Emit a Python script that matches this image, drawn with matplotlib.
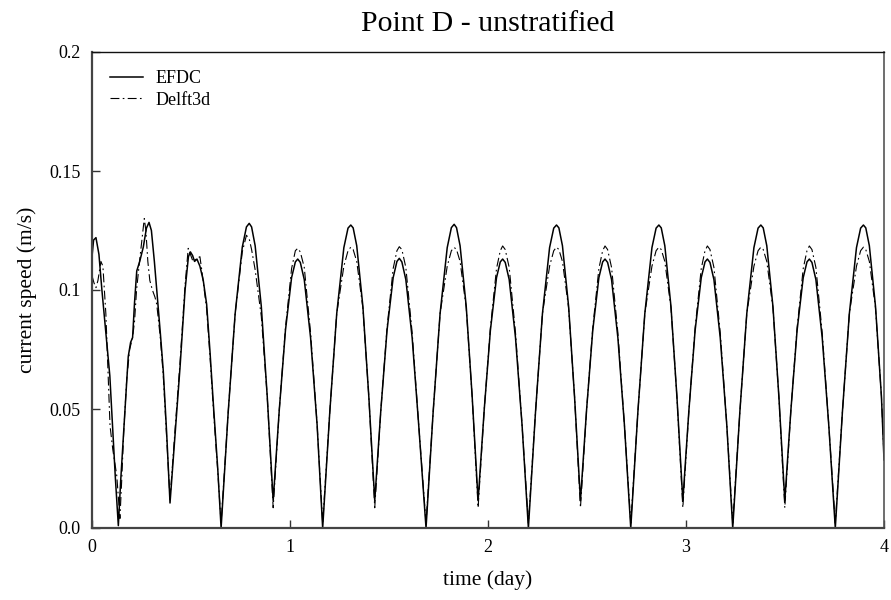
import matplotlib
matplotlib.use("Agg")
import matplotlib.pyplot as plt

# --- values ---
# first ~0.65 day (spin-up, irregular)
efdc_time_start = [0.000, 0.008, 0.020, 0.035, 0.050, 0.070, 0.090, 0.105, 0.118, 0.133,
                   0.145, 0.158, 0.172, 0.183, 0.195, 0.205, 0.215, 0.226, 0.241, 0.259,
                   0.275, 0.288, 0.300, 0.315, 0.327, 0.345, 0.360, 0.377, 0.394, 0.420,
                   0.445, 0.470, 0.487, 0.497, 0.508, 0.518, 0.530, 0.545, 0.562, 0.579,
                   0.596, 0.613, 0.635]
efdc_speed_start = [0.114, 0.121, 0.122, 0.115, 0.100, 0.082, 0.064, 0.041, 0.021, 0.001,
                    0.020, 0.038, 0.058, 0.072, 0.078, 0.080, 0.095, 0.108, 0.112, 0.118,
                    0.126, 0.1284, 0.125, 0.112, 0.100, 0.082, 0.066, 0.040, 0.0105, 0.040,
                    0.068, 0.100, 0.114, 0.116, 0.1145, 0.112, 0.113, 0.110, 0.104, 0.094,
                    0.074, 0.052, 0.025]

delft_time_start = [0.000, 0.010, 0.020, 0.030, 0.045, 0.055, 0.070, 0.091, 0.105, 0.125,
                    0.141, 0.150, 0.160, 0.175, 0.190, 0.205, 0.215, 0.225, 0.240, 0.255,
                    0.264, 0.272, 0.282, 0.292, 0.305, 0.318, 0.327, 0.345, 0.360, 0.377,
                    0.394, 0.420, 0.445, 0.470, 0.486, 0.497, 0.510, 0.525, 0.545, 0.555,
                    0.579, 0.596, 0.613, 0.635]
delft_speed_start = [0.106, 0.103, 0.101, 0.104, 0.112, 0.110, 0.090, 0.043, 0.033, 0.022,
                     0.004, 0.020, 0.040, 0.062, 0.075, 0.080, 0.087, 0.100, 0.112, 0.123,
                     0.130, 0.125, 0.112, 0.104, 0.100, 0.097, 0.094, 0.080, 0.064, 0.038,
                     0.012, 0.042, 0.070, 0.102, 0.1175, 0.115, 0.112, 0.113, 0.114, 0.108,
                     0.092, 0.072, 0.050, 0.024]

# regular tidal part, one row per half M2 cycle (both models share the time axis)
tide_time = [
    0.652, 0.688, 0.723, 0.759, 0.780, 0.794, 0.806, 0.824, 0.855, 0.885,
    0.915, 0.946, 0.977, 1.008, 1.027, 1.039, 1.052, 1.072, 1.104, 1.137,
    1.165, 1.201, 1.236, 1.272, 1.293, 1.307, 1.319, 1.337, 1.368, 1.398,
    1.428, 1.459, 1.490, 1.521, 1.540, 1.552, 1.565, 1.585, 1.617, 1.650,
    1.687, 1.723, 1.758, 1.794, 1.815, 1.829, 1.841, 1.859, 1.890, 1.920,
    1.950, 1.981, 2.012, 2.043, 2.062, 2.074, 2.087, 2.107, 2.139, 2.172,
    2.204, 2.240, 2.275, 2.311, 2.332, 2.346, 2.358, 2.376, 2.407, 2.437,
    2.467, 2.498, 2.529, 2.560, 2.579, 2.591, 2.604, 2.624, 2.656, 2.689,
    2.721, 2.757, 2.792, 2.828, 2.849, 2.863, 2.875, 2.893, 2.924, 2.954,
    2.984, 3.015, 3.046, 3.077, 3.096, 3.108, 3.121, 3.141, 3.173, 3.206,
    3.236, 3.272, 3.307, 3.343, 3.364, 3.378, 3.390, 3.408, 3.439, 3.469,
    3.499, 3.530, 3.561, 3.592, 3.611, 3.623, 3.636, 3.656, 3.688, 3.721,
    3.754, 3.790, 3.825, 3.861, 3.882, 3.896, 3.908, 3.926, 3.957, 3.987,
    4.000,
]
efdc_speed_tide = [
    0.000, 0.0488, 0.0901, 0.1180, 0.1265, 0.1280, 0.1265, 0.1186, 0.0932, 0.0553,
    0.0115, 0.0498, 0.0830, 0.1052, 0.1118, 0.1130, 0.1116, 0.1044, 0.0799, 0.0433,
    0.000, 0.0488, 0.0901, 0.1178, 0.1260, 0.1273, 0.1261, 0.1186, 0.0932, 0.0553,
    0.0115, 0.0498, 0.0830, 0.1052, 0.1120, 0.1133, 0.1118, 0.1044, 0.0799, 0.0433,
    0.000, 0.0488, 0.0901, 0.1178, 0.1262, 0.1276, 0.1262, 0.1186, 0.0932, 0.0553,
    0.0115, 0.0498, 0.0830, 0.1052, 0.1118, 0.1130, 0.1116, 0.1044, 0.0799, 0.0433,
    0.000, 0.0488, 0.0901, 0.1178, 0.1260, 0.1273, 0.1261, 0.1186, 0.0932, 0.0553,
    0.0115, 0.0498, 0.0830, 0.1052, 0.1118, 0.1130, 0.1116, 0.1044, 0.0799, 0.0433,
    0.000, 0.0488, 0.0901, 0.1178, 0.1260, 0.1273, 0.1261, 0.1186, 0.0932, 0.0553,
    0.0115, 0.0498, 0.0830, 0.1052, 0.1118, 0.1130, 0.1116, 0.1044, 0.0799, 0.0433,
    0.000, 0.0488, 0.0901, 0.1178, 0.1260, 0.1273, 0.1261, 0.1186, 0.0932, 0.0553,
    0.0115, 0.0498, 0.0830, 0.1052, 0.1118, 0.1130, 0.1116, 0.1044, 0.0799, 0.0433,
    0.000, 0.0488, 0.0901, 0.1178, 0.1260, 0.1273, 0.1261, 0.1186, 0.0932, 0.0553,
    0.0286,
]
delft_speed_tide = [
    0.002, 0.0488, 0.0901, 0.1160, 0.1230, 0.1215, 0.1170, 0.1085, 0.0890, 0.0553,
    0.0085, 0.0498, 0.0840, 0.1090, 0.1165, 0.1175, 0.1160, 0.1095, 0.0820, 0.0433,
    0.002, 0.0488, 0.0901, 0.1100, 0.1165, 0.1180, 0.1170, 0.1120, 0.0925, 0.0553,
    0.0085, 0.0498, 0.0840, 0.1090, 0.1165, 0.1182, 0.1170, 0.1095, 0.0820, 0.0433,
    0.002, 0.0488, 0.0901, 0.1100, 0.1165, 0.1179, 0.1170, 0.1120, 0.0925, 0.0553,
    0.0085, 0.0498, 0.0840, 0.1090, 0.1165, 0.1185, 0.1170, 0.1095, 0.0820, 0.0433,
    0.002, 0.0488, 0.0901, 0.1100, 0.1165, 0.1180, 0.1170, 0.1120, 0.0925, 0.0553,
    0.0085, 0.0498, 0.0840, 0.1090, 0.1165, 0.1185, 0.1170, 0.1095, 0.0820, 0.0433,
    0.002, 0.0488, 0.0901, 0.1100, 0.1165, 0.1180, 0.1170, 0.1120, 0.0925, 0.0553,
    0.0085, 0.0498, 0.0840, 0.1090, 0.1165, 0.1185, 0.1170, 0.1095, 0.0820, 0.0433,
    0.002, 0.0488, 0.0901, 0.1100, 0.1165, 0.1180, 0.1170, 0.1120, 0.0925, 0.0553,
    0.0085, 0.0498, 0.0840, 0.1090, 0.1165, 0.1185, 0.1170, 0.1095, 0.0820, 0.0433,
    0.002, 0.0488, 0.0901, 0.1100, 0.1165, 0.1180, 0.1170, 0.1120, 0.0925, 0.0553,
    0.0300,
]

x_ticks = [0, 1, 2, 3, 4]
x_tick_labels = ["0", "1", "2", "3", "4"]
y_ticks = [0.0, 0.05, 0.1, 0.15, 0.2]
y_tick_labels = ["0.0", "0.05", "0.1", "0.15", "0.2"]

plt.rcParams["font.family"] = ["Liberation Serif", "DejaVu Serif"]

fig = plt.figure(figsize=(8.91, 6.0), dpi=100)
ax = fig.add_axes([92 / 891, 72 / 600, 792 / 891, 476 / 600])

ax.plot(efdc_time_start + tide_time, efdc_speed_start + efdc_speed_tide,
        color="black", lw=1.1, label="EFDC")
ax.plot(delft_time_start + tide_time, delft_speed_start + delft_speed_tide,
        color="black", lw=0.8, dashes=(8, 3, 1.5, 3), label="Delft3d")

ax.set_xlim(0, 4)
ax.set_ylim(0, 0.2)
ax.set_xticks(x_ticks)
ax.set_xticklabels(x_tick_labels)
ax.set_yticks(y_ticks)
ax.set_yticklabels(y_tick_labels)
ax.tick_params(direction="in", length=6, width=1, labelsize=13, pad=8, color="#333333")

for side in ["left", "bottom"]:
    ax.spines[side].set_linewidth(1.6)
    ax.spines[side].set_color("#444444")
ax.spines["top"].set_linewidth(1.0)
ax.spines["top"].set_color("#111111")
ax.spines["right"].set_linewidth(1.2)
ax.spines["right"].set_color("#555555")

ax.set_title("Point D - unstratified", fontsize=21.5, pad=15)
ax.set_xlabel("time (day)", fontsize=15.5, labelpad=10)
ax.set_ylabel("current speed (m/s)", fontsize=15.5, labelpad=9)

ax.legend(loc="upper left", bbox_to_anchor=(0.0, 1.0), frameon=False, fontsize=13,
          handlelength=1.8, handletextpad=0.7, labelspacing=0.25, borderaxespad=0.6)

fig.savefig("out.png", dpi=100)
